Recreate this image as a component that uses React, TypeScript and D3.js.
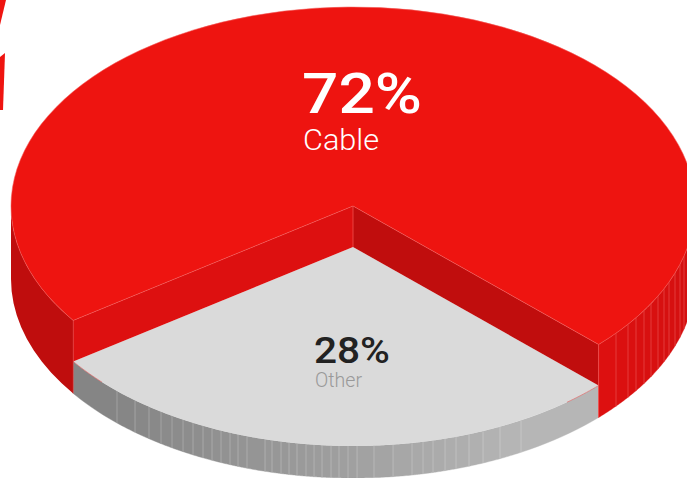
import { type FC, useMemo } from 'react';
import * as d3 from 'd3';

const categories = ['Cable', 'Other'];
const shares = [72, 28];
const labels = ['72%', '28%'];
// where the ribs of the outer wall stand
const greyRibs = [
  117, 135, 149, 161, 172, 183, 193, 203, 212, 221, 230, 238, 247, 265, 272, 281, 289, 297, 306,
  314, 322, 331, 339, 348, 357, 374, 393, 412, 423, 433, 445, 456, 469, 483, 500, 521,
];
const redRibs = [616, 628, 636, 644, 651, 658, 664, 669, 675, 680, 684];

const width = 687;
const height = 478;
const cx = 353;
const cy = 206;
const rx = 342;
const ry = 199;
const sliceDepth = 41; // grey top sits this far below the red top
const totalDepth = 73;
const startDeg = 234.9;

const rad = (d: number) => (d * Math.PI) / 180;
const px = (a: number) => cx + rx * Math.sin(a);
const py = (a: number, drop = 0) => cy + drop - ry * Math.cos(a);
// front half of the ellipse: x position to angle
const angleAt = (x: number) => Math.PI - Math.asin((x - cx) / rx);

const rimLine = d3.line<[number, number]>();

const rim = (a0: number, a1: number, drop: number) =>
  d3
    .range(0, 1.0001, 0.1)
    .map((t) => a0 + (a1 - a0) * t)
    .map((a) => [px(a), py(a, drop)] as [number, number]);

// one piece of the outer wall between two angles
const wallPath = (a0: number, a1: number, top: number, bottom: number) =>
  rimLine([...rim(a0, a1, top), ...rim(a0, a1, bottom).reverse()]) + 'Z';

const App: FC = () => {
  const [red, grey] = useMemo(
    () =>
      d3
        .pie<number>()
        .sort(null)
        .startAngle(rad(startDeg))
        .endAngle(rad(startDeg + 360))(shares),
    [],
  );
  const arc = d3.arc<d3.PieArcDatum<number>>().innerRadius(0).outerRadius(rx);
  const squash = ry / rx;

  const ax = px(red.startAngle);
  const bx = px(red.endAngle);
  const ay = py(red.startAngle);
  const by = py(red.endAngle);

  const greyColor = d3
    .scaleLinear<string>()
    .domain([117, 350, 521])
    .range(['#858585', '#a0a0a0', '#b6b6b6'])
    .clamp(true);
  const redColor = d3
    .scaleLinear<string>()
    .domain([598, 687])
    .range(['#de1010', '#d41010']);

  const greyStops = [ax, ...greyRibs, bx];
  const redStops = [bx, ...redRibs, cx + rx];

  return (
    <svg
      width={width}
      height={height}
      style={{ position: 'absolute', left: 0, top: 0, background: '#fff' }}
      fontFamily="Roboto, sans-serif"
    >
      {/* scraps of a neighbouring graphic cut off by the crop */}
      <path d="M0,25L6,0L0,0Z" fill="#ef1410" />
      <path d="M0,57L5,53L3,110L0,110Z" fill="#ef1410" />

      {/* grey outer wall */}
      {d3.pairs(greyStops).map(([x0, x1], i) => (
        <path
          key={i}
          d={wallPath(angleAt(x0), angleAt(x1), sliceDepth, totalDepth)}
          fill={greyColor((x0 + x1) / 2)}
          stroke={greyColor((x0 + x1) / 2)}
          strokeWidth={0.4}
        />
      ))}
      {greyRibs.map((x) => (
        <line
          key={x}
          x1={x}
          x2={x}
          y1={py(angleAt(x), sliceDepth)}
          y2={py(angleAt(x), totalDepth)}
          stroke="#fff"
          strokeOpacity={0.3}
          strokeWidth={0.8}
        />
      ))}

      {/* grey top */}
      <g transform={`translate(${cx},${cy + sliceDepth}) scale(1,${squash})`}>
        <path d={arc(grey) ?? ''} fill="#dadada" />
      </g>
      {/* faint red fringe at both ends of the grey rim */}
      <path
        d={rimLine(rim(angleAt(567), angleAt(bx), sliceDepth)) ?? ''}
        fill="none"
        stroke="#e06a6a"
        strokeWidth={0.7}
      />
      <path
        d={rimLine(rim(angleAt(ax), angleAt(102), sliceDepth)) ?? ''}
        fill="none"
        stroke="#e06a6a"
        strokeWidth={0.7}
      />

      {/* red outer wall */}
      <path d={wallPath(red.startAngle, rad(270), 0, totalDepth)} fill="#bf0d0d" />
      {d3.pairs(redStops).map(([x0, x1], i) => (
        <path
          key={i}
          d={wallPath(angleAt(x0), angleAt(x1), 0, totalDepth)}
          fill={redColor((x0 + x1) / 2)}
          stroke={redColor((x0 + x1) / 2)}
          strokeWidth={0.4}
        />
      ))}
      {redRibs.map((x) => (
        <line
          key={x}
          x1={x}
          x2={x}
          y1={py(angleAt(x))}
          y2={py(angleAt(x), totalDepth)}
          stroke="#f47a78"
          strokeOpacity={0.55}
          strokeWidth={0.8}
        />
      ))}

      {/* cut faces of the red slice */}
      <polygon
        points={`${cx},${cy} ${ax},${ay} ${ax},${ay + sliceDepth} ${cx},${cy + sliceDepth}`}
        fill="#dd1010"
      />
      <polygon
        points={`${cx},${cy} ${bx},${by} ${bx},${by + sliceDepth} ${cx},${cy + sliceDepth}`}
        fill="#c00d0d"
      />
      <line x1={cx} x2={cx} y1={cy} y2={cy + sliceDepth} stroke="#f2504f" strokeWidth={0.8} />
      <line x1={ax} x2={ax} y1={ay} y2={py(red.startAngle, totalDepth)} stroke="#e0403f" strokeWidth={0.6} />
      <line x1={bx} x2={bx} y1={by} y2={py(red.endAngle, totalDepth)} stroke="#f2504f" strokeWidth={0.8} />

      {/* red top */}
      <g transform={`translate(${cx},${cy}) scale(1,${squash})`}>
        <path d={arc(red) ?? ''} fill="#ee1410" stroke="#f4605e" strokeWidth={0.7} />
      </g>

      <text x={302} y={113} fontSize={56} fontWeight={500} fill="#fff" textLength={120} lengthAdjust="spacingAndGlyphs">
        {labels[0]}
      </text>
      <text x={303} y={150} fontSize={30} fontWeight={300} fill="#fff" textLength={76} lengthAdjust="spacingAndGlyphs">
        {categories[0]}
      </text>
      <text x={314} y={363} fontSize={36} fontWeight={500} fill="#222" textLength={76} lengthAdjust="spacingAndGlyphs">
        {labels[1]}
      </text>
      <text x={315} y={387} fontSize={20} fontWeight={300} fill="#999" textLength={47} lengthAdjust="spacingAndGlyphs">
        {categories[1]}
      </text>
    </svg>
  );
};

export default App;
